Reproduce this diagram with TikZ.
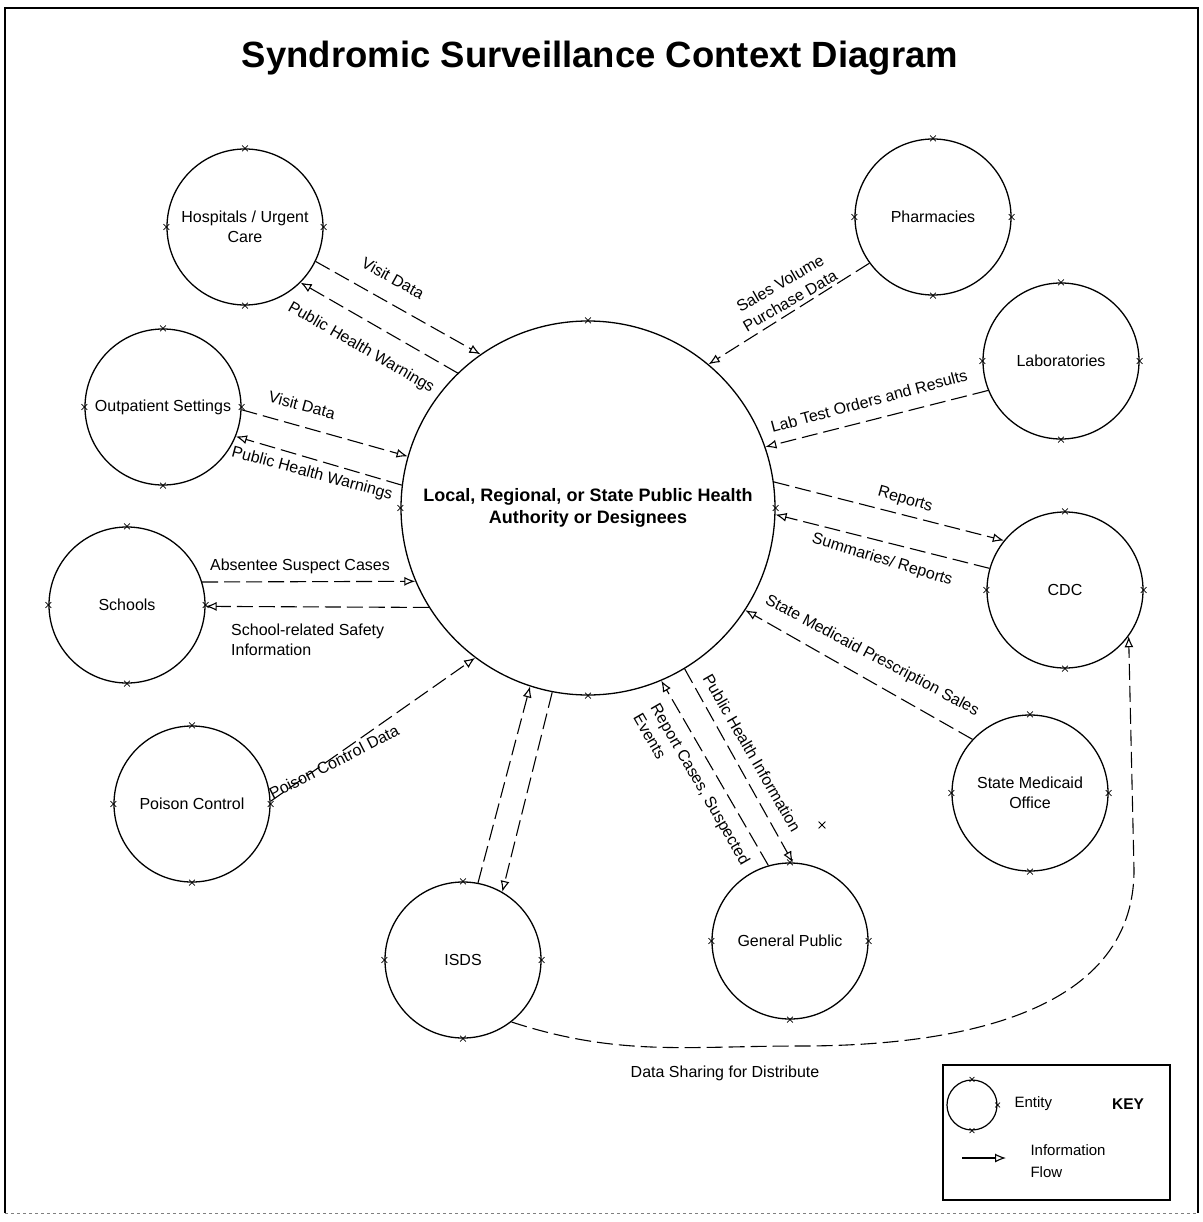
\documentclass[tikz,border=0pt]{standalone}
\usepackage{fontspec}
\setmainfont{Liberation Sans}
\usetikzlibrary{arrows.meta,shapes.misc}
\begin{document}
\begin{tikzpicture}[x=1pt,y=-1pt,
  entity/.style={circle,draw,line width=1.3pt,minimum size=156pt,inner sep=0pt,align=center,font=\fontsize{16}{20}\selectfont},
  flow/.style={line width=1.1pt,dash pattern=on 16pt off 6pt,-{Latex[open,length=11pt,width=9pt]}},
  lbl/.style={font=\fontsize{16}{20}\selectfont,inner sep=1pt,align=left},
  xmark/.style={cross out,draw,line width=0.8pt,minimum size=6pt,inner sep=0pt}]
\useasboundingbox (0,0) rectangle (1202,1222);
% frame
\draw[line width=1.5pt] (5,1213) -- (5,8) -- (1198,8) -- (1198,1213);
\draw[line width=0.8pt,gray,dashed] (5,1213) -- (1198,1213);
% title
\node[font=\fontsize{36.5}{42}\selectfont\bfseries] (title) at (600,58) {Syndromic Surveillance Context Diagram};
% entities
\node[entity,minimum size=374pt,font=\fontsize{18}{22}\selectfont\bfseries] (main) at (588,508) {Local, Regional, or State Public Health\\Authority or Designees};
\node[entity] (hosp) at (245,227) {Hospitals / Urgent\\Care};
\node[entity] (pharm) at (933,217) {Pharmacies};
\node[entity] (labs) at (1061,361) {Laboratories};
\node[entity] (outp) at (163,407) {Outpatient Settings};
\node[entity] (schools) at (127,605) {Schools};
\node[entity] (poison) at (192,804) {Poison Control};
\node[entity] (cdc) at (1065,590) {CDC};
\node[entity] (medicaid) at (1030,793) {State Medicaid\\Office};
\node[entity] (public) at (790,941) {General Public};
\node[entity] (isds) at (463,960) {ISDS};
% connection point marks
\foreach \n in {main,hosp,pharm,labs,outp,schools,poison,cdc,medicaid,public,isds}{
  \foreach \a in {0,90,180,270}{
    \node[xmark,minimum size=5pt] at (\n.\a) {};
  }
}
\node[xmark] (stray) at (822,825) {};
% flows
\draw[flow] (hosp.-26) -- (main.125);
\draw[flow] (main.134) -- (hosp.-45);
\draw[flow] (outp.-2) -- (main.164);
\draw[flow] (main.173) -- (outp.-22);
\draw[flow] (schools.17) -- (main.-157);
\draw[flow] (main.-148) -- (schools.-1);
\draw[flow] (poison.2) -- (main.-127);
\draw[flow] (pharm.-144) -- (main.50.6);
\draw[flow] (labs.-158) -- (main.19.5);
\draw[flow] (main.8) -- (cdc.141);
\draw[flow] (cdc.164) -- (main.-2);
\draw[flow] (medicaid.137) -- (main.-33);
\draw[flow] (main.-59) -- (public.88);
\draw[flow] (public.106) -- (main.-67);
\draw[flow] (isds.79) -- (main.-108);
\draw[flow] (main.-101) -- (isds.60);
\coordinate (ds1) at (800,1046);
\coordinate (ds2) at (1134,870);
\draw[flow] (isds.-52) to[out=-18,in=180] (ds1) to[out=0,in=-90] (ds2) -- (cdc.-36);
% labels
\node[lbl,rotate=-29] (l1) at (393,278) {Visit Data};
\node[lbl,rotate=-30] (l2) at (361,348) {Public Health Warnings};
\node[lbl,rotate=-15] (l3) at (302,405) {Visit Data};
\node[lbl,rotate=-15] (l4) at (312,474) {Public Health Warnings};
\node[lbl] (l5) at (300,566) {Absentee Suspect Cases};
\node[lbl,anchor=west] (l6) at (230,640) {School-related Safety\\Information};
\node[lbl,rotate=27] (l7) at (334,762) {Poison Control Data};
\node[lbl,rotate=30,align=center] (l8) at (785,292) {Sales Volume\\Purchase Data};
\node[lbl,rotate=15] (l9) at (869,401) {Lab Test Orders and Results};
\node[lbl,rotate=-16] (l10) at (905,500) {Reports};
\node[lbl,rotate=-17] (l11) at (882,560) {Summaries/ Reports};
\node[lbl,rotate=-28] (l12) at (872,656) {State Medicaid Prescription Sales};
\node[lbl,rotate=-60] (l13) at (752,753) {Public Health Information};
\node[lbl,rotate=-60] (l14) at (692,789) {Report Cases, Suspected\\Events};
\node[lbl] (l15) at (725,1073) {Data Sharing for Distribute};
% key
\node[draw,line width=1.3pt,minimum width=227pt,minimum height=135pt,inner sep=0pt] (keybox) at (1056.5,1132.5) {};
\node[circle,draw,line width=1.2pt,minimum size=50pt,inner sep=0pt] (keyent) at (972,1105) {};
\foreach \a in {0,90,270}{\node[xmark,minimum size=4pt] at (keyent.\a) {};}
\node[anchor=west,font=\fontsize{15}{18}\selectfont] (entlbl) at (1011,1104) {Entity};
\node[font=\fontsize{15.5}{18}\selectfont\bfseries] (keylbl) at (1128,1104) {KEY};
\coordinate (ka) at (962,1158);
\coordinate (kb) at (1006,1158);
\draw[line width=1.1pt,-{Latex[open,length=11pt,width=9pt]}] (ka) -- (kb);
\node[anchor=west,align=left,font=\fontsize{15}{22}\selectfont] (flowlbl) at (1027,1161) {Information\\Flow};
\end{tikzpicture}
\end{document}
